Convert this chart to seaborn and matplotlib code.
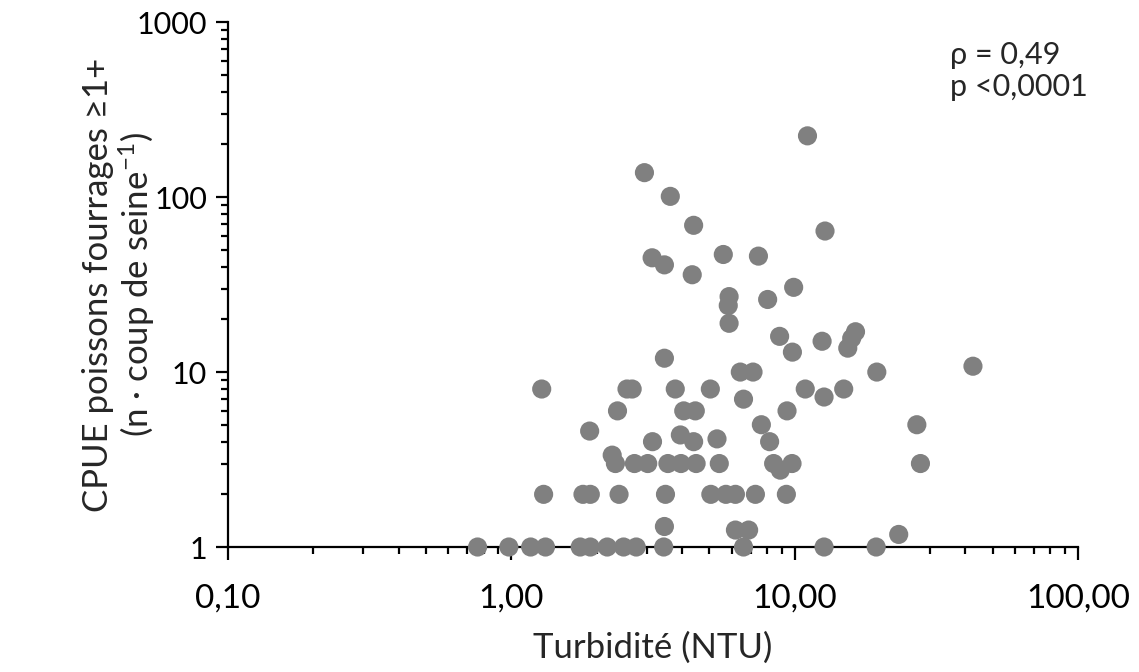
import matplotlib
matplotlib.use("Agg")
import matplotlib.pyplot as plt
import seaborn as sns
import pandas as pd
from matplotlib.ticker import FixedLocator, LogLocator, NullFormatter

turbidity = [0.76, 0.98, 1.17, 1.32, 1.75, 1.90, 2.18, 2.49, 2.76, 3.45, 6.6, 12.7, 19.4,
             3.47, 6.18, 6.88, 23.3,
             1.30, 1.79, 1.90, 2.40, 3.50, 5.06, 5.72, 6.18, 7.27, 9.35,
             2.33, 2.72, 3.03, 3.57, 3.97, 4.49, 5.42, 8.43, 8.9, 9.79, 27.8,
             2.27,
             3.15, 3.95, 4.40, 5.32, 8.16,
             1.89,
             7.63, 27.0,
             2.37, 4.06, 4.46, 9.4,
             6.6, 12.7,
             1.28, 2.56, 2.67, 3.79, 5.04, 10.9, 14.9,
             6.43, 7.13, 19.5, 42.6,
             3.47, 9.82, 12.5, 15.4, 15.9, 16.4, 8.85,
             5.87, 5.83, 5.87, 8.03, 9.92,
             4.35, 3.47, 3.14, 5.6, 7.45, 12.8, 4.4, 3.64, 2.95, 11.1]
cpue = [1, 1, 1, 1, 1, 1, 1, 1, 1, 1, 1, 1, 1,
        1.31, 1.25, 1.25, 1.18,
        2, 2, 2, 2, 2, 2, 2, 2, 2, 2,
        3, 3, 3, 3, 3, 3, 3, 3, 2.75, 3, 3,
        3.35,
        4, 4.37, 4.0, 4.15, 4,
        4.6,
        5, 5,
        6, 6, 6, 6,
        7, 7.2,
        8, 8, 8, 8, 8, 8, 8,
        10, 10, 10, 10.8,
        12, 13, 15, 13.7, 15.6, 17, 16,
        19, 24, 27, 26, 30.5,
        36, 41, 45, 47, 46, 64, 69, 101, 138, 224]

x_ticks = [0.1, 1, 10, 100]
x_ticklabels = ["0,10", "1,00", "10,00", "100,00"]
y_ticks = [1, 10, 100, 1000]
y_ticklabels = ["1", "10", "100", "1000"]
stats_text = ["ρ = 0,49", "p <0,0001"]

df = pd.DataFrame({"turbidity": turbidity, "cpue": cpue})

sns.set_style("ticks")
plt.rcParams["font.family"] = ["Lato", "DejaVu Sans"]
plt.rcParams["mathtext.default"] = "regular"

fig = plt.figure(figsize=(11.39, 6.72), dpi=100)
ax = fig.add_axes([0.2002, 0.186, 0.7462, 0.781])

sns.scatterplot(data=df, x="turbidity", y="cpue", ax=ax, color="#808080",
                s=190, linewidth=0, edgecolor="none", zorder=5, clip_on=False)

ax.set_xscale("log")
ax.set_yscale("log")
ax.set_xlim(0.1, 100)
ax.set_ylim(1, 1000)

ax.xaxis.set_major_locator(FixedLocator(x_ticks))
ax.set_xticklabels(x_ticklabels, fontsize=24)
ax.yaxis.set_major_locator(FixedLocator(y_ticks))
ax.set_yticklabels(y_ticklabels, fontsize=22)
ax.xaxis.set_minor_locator(LogLocator(base=10, subs=range(2, 10), numticks=20))
ax.yaxis.set_minor_locator(LogLocator(base=10, subs=range(2, 10), numticks=20))
ax.xaxis.set_minor_formatter(NullFormatter())
ax.yaxis.set_minor_formatter(NullFormatter())

for s in ["top", "right"]:
    ax.spines[s].set_visible(False)
for s in ["left", "bottom"]:
    ax.spines[s].set_linewidth(1.6)
    ax.spines[s].set_color("black")

ax.tick_params(axis="both", which="major", direction="out", length=9, width=1.6,
               colors="black")
ax.tick_params(axis="x", which="major", pad=17)
ax.tick_params(axis="y", which="major", pad=6)
ax.tick_params(axis="both", which="minor", direction="out", length=5, width=1.6,
               colors="black")

ax.set_xlabel("Turbidité (NTU)", fontsize=25)
ax.xaxis.set_label_coords(0.5, -0.162)
ax.set_ylabel("CPUE poissons fourrages ≥1+\n(n · coup de seine$^{-1}$)",
              fontsize=25, linespacing=1.1)
ax.yaxis.set_label_coords(-0.083, 0.5)

ax.text(0.85, 0.965, stats_text[0] + "\n" + stats_text[1], transform=ax.transAxes,
        fontsize=22, va="top", ha="left", linespacing=1.2)

fig.savefig("out.png", dpi=100)
